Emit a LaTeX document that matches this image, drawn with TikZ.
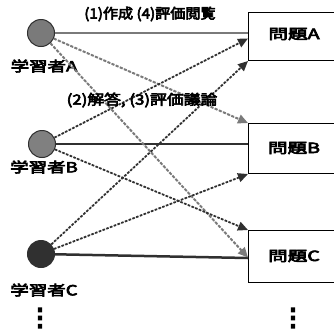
\documentclass[tikz,border=0pt]{standalone}
\usepackage{fontspec}
\usepackage{graphicx}
\newfontfamily\jp{Noto Sans CJK JP}[FakeBold=4]
\newfontfamily\symf{DejaVu Sans}[FakeBold=8]
\newcommand\jpwide[2]{\scalebox{#1}[1]{#2}}
\usetikzlibrary{arrows.meta}
\definecolor{lgray}{HTML}{7A7A7A}
\definecolor{dgray}{HTML}{303030}
\begin{document}
\begin{tikzpicture}[x=1pt,y=-1pt,
  learner/.style={circle,draw=dgray,line width=1pt,minimum size=27pt,inner sep=0pt},
  probbox/.style={draw=black,line width=1pt,anchor=north west,minimum width=110pt,inner sep=0pt},
  lbl/.style={font=\jp\fontsize{14}{14}\selectfont,inner sep=0pt},
  dots/.style={font=\symf\fontsize{24}{24}\selectfont,inner sep=0pt},
  tip/.style={-{Triangle[length=10pt,width=9pt]}},
  garrow/.style={tip,draw=lgray,fill=lgray,line width=2pt,dash pattern=on 3pt off 1.5pt},
  darrow/.style={tip,draw=dgray,fill=dgray,line width=1.8pt,dash pattern=on 2.5pt off 1.5pt},
  solid1/.style={line width=2.5pt}
]
\useasboundingbox (0,0) rectangle (334,333);
\clip (0,0) rectangle (334,333);
% boxes
\node[probbox,minimum height=48pt] (PA) at (248,12) {};
\node[probbox,minimum height=50pt] (PB) at (248,123) {};
\node[probbox,minimum height=52pt] (PC) at (248,230) {};
\node[lbl] (tA) at (294,34) {\jpwide{1.4}{問題A}};
\node[lbl] (tB) at (294,148) {\jpwide{1.4}{問題B}};
\node[lbl] (tC) at (294,256) {\jpwide{1.4}{問題C}};
% learners
\node[learner,fill=lgray] (A) at (41,33) {};
\node[learner,fill=gray] (B) at (42,144) {};
\node[learner,fill=dgray] (C) at (41,254) {};
\node[lbl] (lA) at (44,66) {\jpwide{1.32}{学習者A}};
\node[lbl] (lB) at (44,167) {\jpwide{1.32}{学習者B}};
\node[lbl] (lC) at (44,290) {\jpwide{1.32}{学習者C}};
% solid connectors
\draw[solid1,draw=lgray] (A) -- (A -| PA.west);
\draw[solid1,draw=dgray,line width=2pt] (B) -- (B -| PB.west);
\draw[solid1,draw=dgray] (C) -- ([yshift=-4pt]C -| PC.west);
% dashed arrows
\draw[garrow] (A) -- (PB.north west);
\draw[garrow] (A) -- ([yshift=-1pt]PC.west);
\draw[darrow] (B) -- ([yshift=-2pt]PA.west);
\draw[darrow] (B) -- (PC.north west);
\draw[darrow] (C) -- (PA.south west);
\draw[darrow] (C) -- (PB.south west);
% labels
\node[lbl] (op1) at (150,14) {\jpwide{1.08}{(1)作成 (4)評価閲覧}};
\node[lbl] (op2) at (142,100) {\jpwide{1.2}{(2)解答, (3)評価議論}};
\node[dots] (dl) at (40,318) {⋮};
\node[dots] (dr) at (293,318) {⋮};
\end{tikzpicture}
\end{document}
